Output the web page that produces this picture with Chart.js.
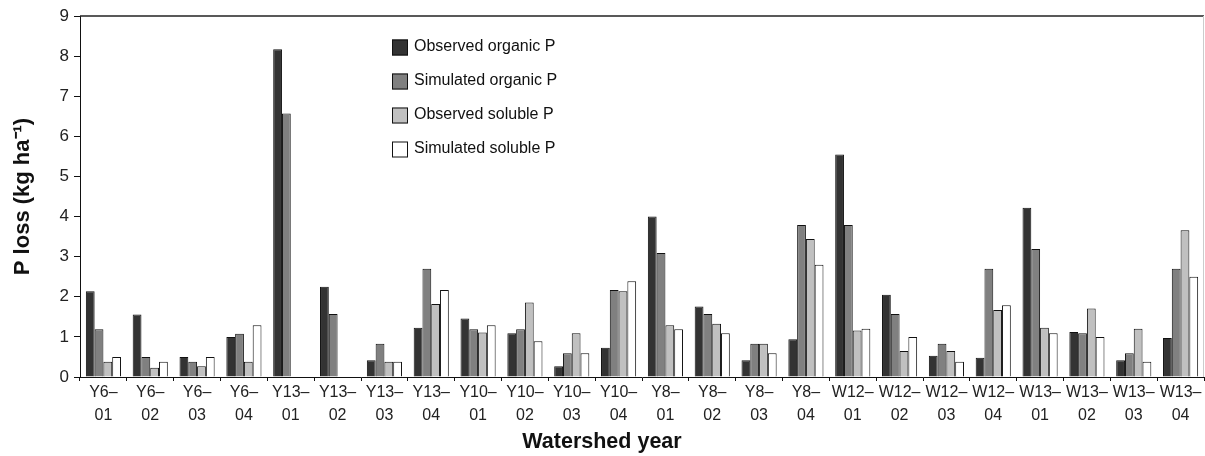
<!DOCTYPE html>
<html>
<head>
<meta charset="utf-8">
<script src="https://cdn.jsdelivr.net/npm/chart.js@4.4.1/dist/chart.umd.min.js"></script>
<style>
  html, body { margin: 0; padding: 0; background: #ffffff; }
  #c { display: block; }
</style>
</head>
<body>
<canvas id="c" width="1205" height="456"></canvas>
<script>
const categories = [
  'Y6–01','Y6–02','Y6–03','Y6–04',
  'Y13–01','Y13–02','Y13–03','Y13–04',
  'Y10–01','Y10–02','Y10–03','Y10–04',
  'Y8–01','Y8–02','Y8–03','Y8–04',
  'W12–01','W12–02','W12–03','W12–04',
  'W13–01','W13–02','W13–03','W13–04'
];
const observedOrganicP = [2.14,1.56,0.50,1.00, 8.17,2.25,0.42,1.23, 1.46,1.09,0.27,0.73, 4.00,1.76,0.42,0.94, 5.55,2.05,0.53,0.48, 4.22,1.12,0.42,0.97];
const simulatedOrganicP = [1.19,0.50,0.38,1.08, 6.57,1.57,0.83,2.70, 1.19,1.19,0.59,2.17, 3.09,1.57,0.83,3.79, 3.79,1.57,0.83,2.70, 3.19,1.09,0.59,2.70];
const observedSolubleP = [0.38,0.23,0.27,0.38, null,null,0.38,1.82, 1.11,1.86,1.09,2.14, 1.29,1.33,0.83,3.44, 1.16,0.65,0.65,1.67, 1.23,1.71,1.20,3.66];
const simulatedSolubleP = [0.50,0.38,0.50,1.29, null,null,0.38,2.17, 1.29,0.89,0.59,2.39, 1.19,1.09,0.59,2.80, 1.20,1.00,0.38,1.79, 1.09,1.00,0.38,2.50];
const seriesNames = ['Observed organic P','Simulated organic P','Observed soluble P','Simulated soluble P'];
const yTicks = [0,1,2,3,4,5,6,7,8,9];

const FONT = "'Liberation Sans', Arial, Helvetica, sans-serif";
const fills = ['#333333','#808080','#c0c0c0','#ffffff'];
const seriesData = [observedOrganicP, simulatedOrganicP, observedSolubleP, simulatedSolubleP];

const insideLegend = {
  id: 'insideLegend',
  afterDraw(chart, args, opts) {
    const ctx = chart.ctx;
    ctx.save();
    ctx.font = '16px ' + FONT;
    ctx.textBaseline = 'alphabetic';
    ctx.textAlign = 'left';
    chart.data.datasets.forEach((ds, i) => {
      const by = opts.top + i * opts.rowGap;
      ctx.fillStyle = ds.backgroundColor;
      ctx.fillRect(opts.left, by, opts.box, opts.box);
      ctx.lineWidth = 1;
      ctx.strokeStyle = '#111111';
      ctx.strokeRect(opts.left + 0.5, by + 0.5, opts.box - 1, opts.box - 1);
      ctx.fillStyle = '#111111';
      ctx.fillText(ds.label, opts.left + opts.box + 6, by + 11);
    });
    ctx.restore();
  }
};

const frame = {
  id: 'frame',
  afterDraw(chart) {
    const {ctx, chartArea: a} = chart;
    ctx.save();
    ctx.strokeStyle = '#222222';
    ctx.lineWidth = 1.5;
    ctx.beginPath();
    ctx.moveTo(a.left, a.top);
    ctx.lineTo(a.right, a.top);
    ctx.stroke();
    ctx.strokeStyle = '#cccccc';
    ctx.lineWidth = 1;
    ctx.beginPath();
    ctx.moveTo(a.right - 0.5, a.top);
    ctx.lineTo(a.right - 0.5, a.bottom);
    ctx.stroke();
    ctx.restore();
  }
};

new Chart(document.getElementById('c'), {
  type: 'bar',
  data: {
    labels: categories,
    datasets: seriesNames.map((name, i) => ({
      label: name,
      data: seriesData[i],
      backgroundColor: fills[i],
      borderColor: '#111111',
      borderWidth: 1,
      categoryPercentage: 0.75,
      barPercentage: 1.0
    }))
  },
  options: {
    responsive: false,
    animation: false,
    devicePixelRatio: 1,
    layout: { padding: { top: 16, right: 1, left: 0, bottom: 0 } },
    plugins: {
      legend: { display: false },
      tooltip: { enabled: false },
      title: {
        display: true,
        position: 'bottom',
        text: 'Watershed year',
        color: '#111111',
        font: { family: FONT, size: 21.5, weight: 'bold', lineHeight: 1.2 },
        padding: { top: 0, bottom: 1 }
      },
      insideLegend: { left: 392, top: 39.5, box: 16, rowGap: 34 }
    },
    scales: {
      x: {
        afterFit: (s) => { s.height = 52.2; },
        grid: { display: true, drawOnChartArea: false, drawTicks: true, tickLength: 4, color: '#111111', offset: true },
        border: { display: true, color: '#111111', width: 1 },
        ticks: {
          autoSkip: false,
          maxRotation: 0,
          minRotation: 0,
          padding: 0,
          color: '#222222',
          font: { family: FONT, size: 16, lineHeight: 23 / 16 },
          callback: function (v, i) {
            const parts = categories[i].split('–');
            return [parts[0] + '–', parts[1]];
          }
        }
      },
      y: {
        min: 0,
        max: 9,
        afterFit: (s) => { s.width = 80; },
        afterBuildTicks: (s) => { s.ticks = yTicks.map(v => ({ value: v })); },
        grid: { display: true, drawOnChartArea: false, drawTicks: true, tickLength: 6, color: '#111111' },
        border: { display: true, color: '#111111', width: 1 },
        ticks: {
          padding: 5,
          color: '#222222',
          font: { family: FONT, size: 17 }
        },
        title: {
          display: true,
          text: 'P loss (kg ha⁻¹)',
          color: '#111111',
          font: { family: FONT, size: 22, weight: 'bold', lineHeight: 1.2 },
          padding: { top: 10, bottom: 0 }
        }
      }
    }
  },
  plugins: [insideLegend, frame]
});
</script>
</body>
</html>
